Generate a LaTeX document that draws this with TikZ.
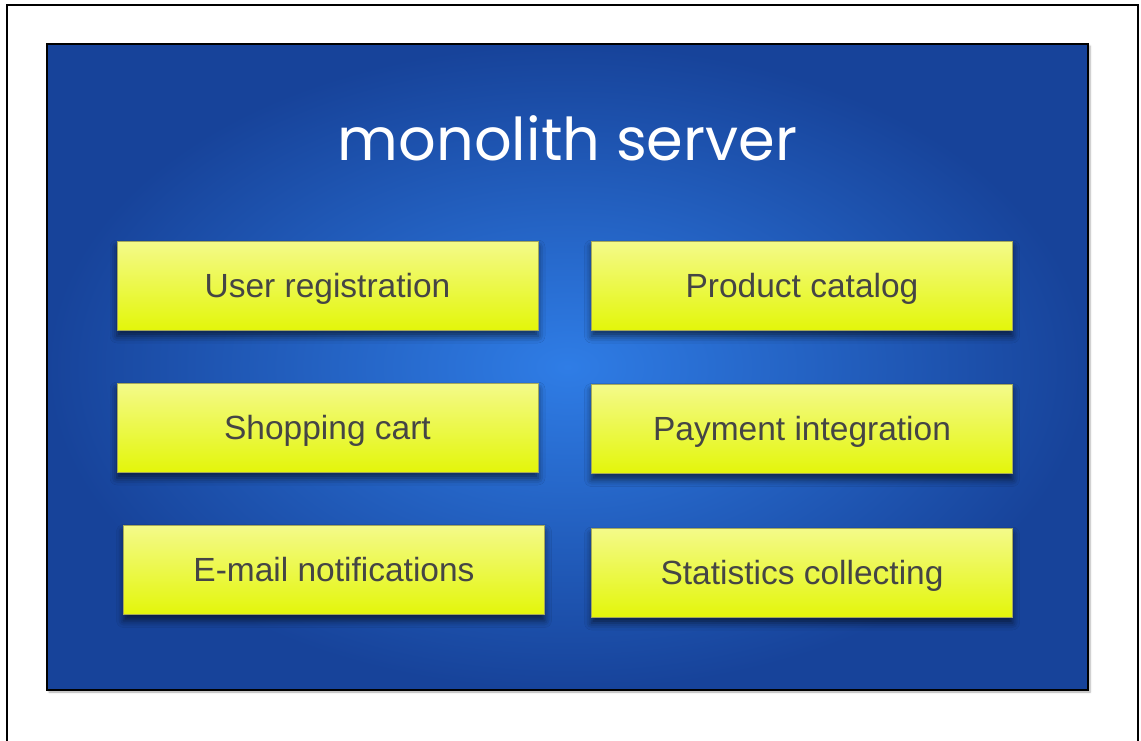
\documentclass[tikz,border=0pt]{standalone}
\usepackage{fontspec}
\setmainfont{Liberation Sans}
\newfontfamily\titlefont{Poppins}
\usetikzlibrary{shadows.blur}

\definecolor{blueIn}{HTML}{2F7DE6}
\definecolor{blueOut}{HTML}{17439A}
\definecolor{yelTop}{HTML}{F4FA8A}
\definecolor{yelBot}{HTML}{E3F60A}
\definecolor{yelEdge}{HTML}{A4A85A}
\definecolor{label}{HTML}{454545}

\tikzset{
  frameline/.style={line width=2pt, black},
  serverbox/.style={draw=black, line width=2pt, inner sep=0pt,
    shading=radial, inner color=blueIn, outer color=blueOut,
    blur shadow={shadow xshift=2pt, shadow yshift=-2pt, shadow blur radius=2pt, shadow opacity=35}},
  module/.style={draw=yelEdge, line width=0.8pt, inner sep=0pt,
    top color=yelTop, bottom color=yelBot,
    minimum width=421pt, minimum height=89pt,
    text height=23pt, text depth=0pt,
    text=label, font=\fontsize{33.5}{38}\selectfont,
    blur shadow={shadow xshift=0pt, shadow yshift=-6pt, shadow blur radius=7pt, shadow opacity=60}},
  heading/.style={text=white, font=\titlefont\fontsize{59}{66}\selectfont}
}

\begin{document}
\begin{tikzpicture}[x=1pt, y=-1pt]
  \useasboundingbox (0,0) rectangle (1141,740);

  % open outer frame (runs off the bottom edge)
  \draw[frameline] (7,745) -- (7,5) -- (1138,5) -- (1138,745);

  % server container
  \node[serverbox, minimum width=1041pt, minimum height=646pt] (server) at (567.5,367) {};

  \node[heading] (title) at (567.5,138) {monolith server};

  % modules
  \node[module] (reg)   at (327.5,285.5) {User registration};
  \node[module] (cat)   at (802,285.5)   {Product catalog};
  \node[module] (cart)  at (327.5,427.5) {Shopping cart};
  \node[module] (pay)   at (802,429)     {Payment integration};
  \node[module] (mail)  at (334,570)     {E-mail notifications};
  \node[module] (stats) at (802,572.5)   {Statistics collecting};
\end{tikzpicture}
\end{document}
